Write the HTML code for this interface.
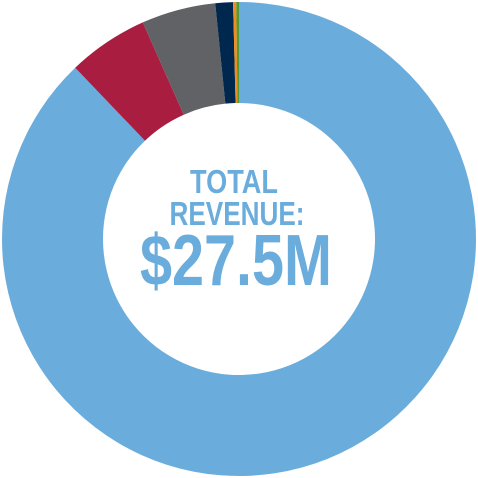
<!DOCTYPE html>
<html><head><meta charset="utf-8"><style>
html,body{margin:0;padding:0;background:#fff;width:478px;height:478px;overflow:hidden}
svg{display:block}
text{font-family:"Liberation Sans Narrow","Liberation Sans",sans-serif;font-weight:bold;fill:#6aaddc}
</style></head><body>
<svg id="chart" width="478" height="478" viewBox="0 0 478 478">
<g id="slices"></g>
<text x="234" y="193" text-anchor="middle" font-size="33" textLength="88" lengthAdjust="spacingAndGlyphs">TOTAL</text>
<text x="237" y="225" text-anchor="middle" font-size="33" textLength="135" lengthAdjust="spacingAndGlyphs">REVENUE:</text>
<text x="236" y="285" text-anchor="middle" font-size="72" textLength="192" lengthAdjust="spacingAndGlyphs">$27.5M</text>
</svg>
<script>
const categories = ["Source A","Source B","Source C","Source D","Source E","Source F"];
const values = [24.16, 1.51, 1.39, 0.33, 0.06, 0.05];
const colors = ["#6aaddc","#a81d40","#616266","#00284f","#f38b1f","#4f9a3b"];
const cx=239, cy=239, R=237, r=136;
const total = values.reduce((a,b)=>a+b,0);
function pt(a,rad){return [cx+rad*Math.sin(a), cy-rad*Math.cos(a)];}
const g=document.getElementById('slices');
let start=0;
values.forEach((v,i)=>{
  const end=start+v/total*2*Math.PI;
  const large=(end-start)>Math.PI?1:0;
  const [x1,y1]=pt(start,R),[x2,y2]=pt(end,R),[x3,y3]=pt(end,r),[x4,y4]=pt(start,r);
  const p=document.createElementNS('http://www.w3.org/2000/svg','path');
  p.setAttribute('d',`M${x1},${y1}A${R},${R} 0 ${large} 1 ${x2},${y2}L${x3},${y3}A${r},${r} 0 ${large} 0 ${x4},${y4}Z`);
  p.setAttribute('fill',colors[i]);
  
  
  g.appendChild(p);
  start=end;
});
</script>
</body></html>
